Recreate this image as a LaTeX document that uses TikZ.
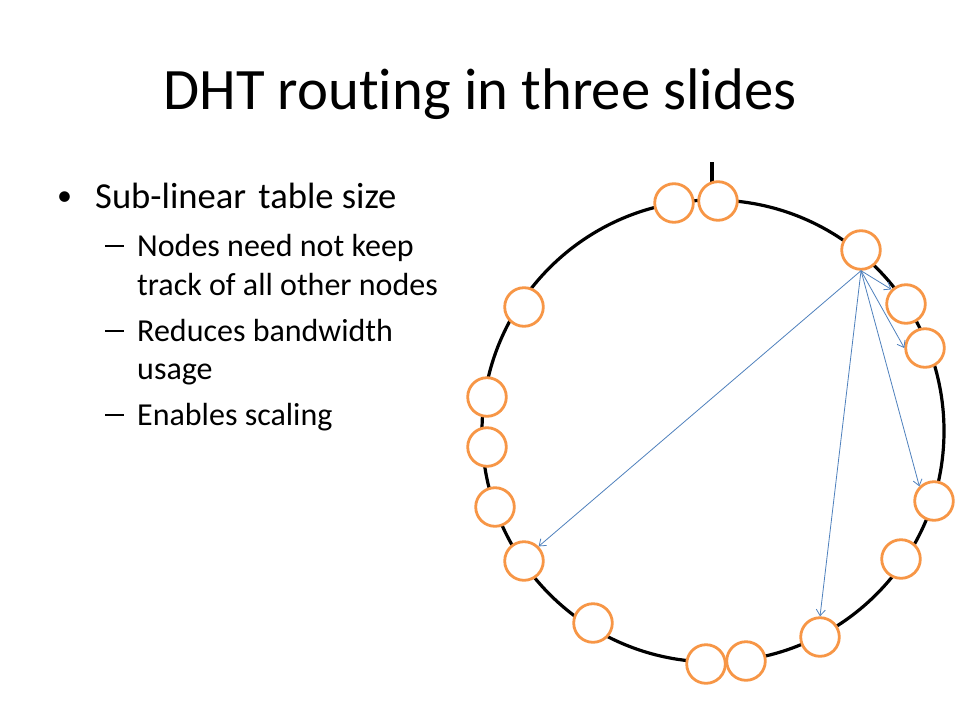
\documentclass[tikz,border=0pt]{standalone}
\usepackage{fontspec}
\setmainfont{Carlito}[Ligatures={NoCommon,NoRare,NoContextual}]
\usetikzlibrary{arrows.meta}
\definecolor{ringorange}{HTML}{F79646}
\definecolor{arrowblue}{HTML}{4F81BD}
\newcommand{\subdash}{\rule[9pt]{19pt}{2pt}}
\begin{document}
\begin{tikzpicture}[x=1pt,y=-1pt,
  peer/.style={circle,draw=ringorange,line width=2.8pt,fill=white,minimum size=38.6pt,inner sep=0pt},
  hop/.style={draw=arrowblue,line width=0.8pt,-{Straight Barb[length=6pt,width=9pt]}},
  ringstyle/.style={circle,draw=black,line width=3.2pt,minimum size=462pt,inner sep=0pt},
  lvlone/.style={anchor=base west,inner sep=0pt,font=\fontsize{36.6}{44}\selectfont},
  lvltwo/.style={anchor=base west,inner sep=0pt,font=\fontsize{32}{38}\selectfont},
  titlestyle/.style={anchor=base,inner sep=0pt,font=\fontsize{58.7}{70}\selectfont}]
\useasboundingbox (0,0) rectangle (960,720);
\fill[white] (0,0) rectangle (960,720);
% title
\node[titlestyle] (ttl) at (480,109) {DHT routing in three slides};
% bullets
\node[lvlone,font=\fontsize{30}{36}\selectfont] (b1) at (57,205) {•};
\node[lvlone] (t1) at (95,208) {Sub-linear\hspace{4pt} table size};
\node[lvltwo] (d1) at (105,256) {\subdash};
\node[lvltwo] (t2) at (137,256) {Nodes need not keep};
\node[lvltwo] (t3) at (137,295) {track of all other nodes};
\node[lvltwo] (d2) at (105,341) {\subdash};
\node[lvltwo] (t4) at (137,341) {Reduces bandwidth};
\node[lvltwo] (t5) at (137,379) {usage};
\node[lvltwo] (d3) at (105,425) {\subdash};
\node[lvltwo] (t6) at (137,425) {Enables scaling};
% ring
\node[ringstyle] (ring) at (713,431) {};
\coordinate (tickTop) at (712,162);
\coordinate (tickBot) at (712,188);
\draw[line width=3.5pt] (tickTop) -- (tickBot);
% peers
\node[peer] (n1) at (674,203) {};
\node[peer] (n2) at (718,201) {};
\node[peer] (n3) at (861,250) {};
\node[peer] (n4) at (906,304) {};
\node[peer] (n5) at (925,348) {};
\node[peer] (n6) at (934,501) {};
\node[peer] (n7) at (901,559) {};
\node[peer] (n8) at (820,637) {};
\node[peer] (n9) at (746,661) {};
\node[peer] (n10) at (706,664) {};
\node[peer] (n11) at (593,623) {};
\node[peer] (n12) at (524,561) {};
\node[peer] (n13) at (495,507) {};
\node[peer] (n14) at (487,447) {};
\node[peer] (n15) at (487,397) {};
\node[peer] (n16) at (524,307) {};
% routing hops
\coordinate (src) at (n3.south);
\draw[hop] (src) -- (n4.135);
\draw[hop] (src) -- (n5.180);
\draw[hop] (src) -- (n6.135);
\draw[hop] (src) -- (n8.90);
\draw[hop] (src) -- (n12.45);
\end{tikzpicture}
\end{document}
